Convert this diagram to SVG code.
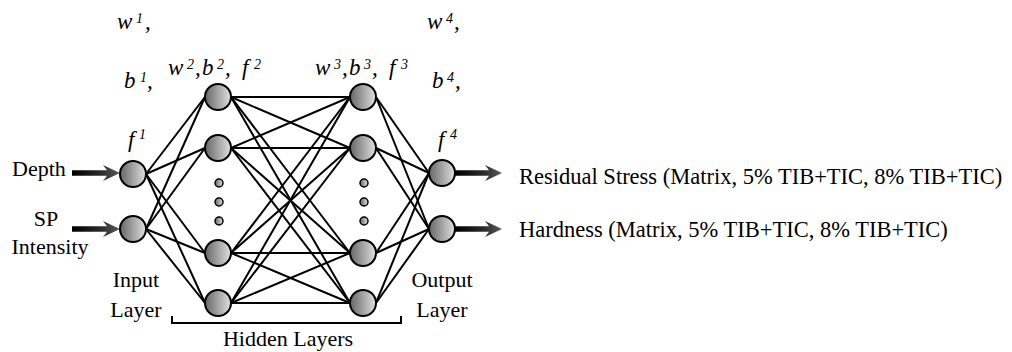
<svg xmlns="http://www.w3.org/2000/svg" width="1012" height="352" viewBox="0 0 1012 352">
<defs>
<linearGradient id="nodeGrad" x1="0" y1="0" x2="1" y2="0">
<stop offset="0" stop-color="#666"/>
<stop offset="1" stop-color="#e0e0e0"/>
</linearGradient>
<linearGradient id="arrowGrad" x1="0" y1="0" x2="1" y2="0">
<stop offset="0" stop-color="#000"/>
<stop offset="0.6" stop-color="#2a2a2a"/>
<stop offset="1" stop-color="#5a5a5a"/>
</linearGradient>
</defs>
<style>
.node{fill:url(#nodeGrad);stroke:#000;stroke-width:2}
.dot{fill:url(#nodeGrad);stroke:#000;stroke-width:1.5}
.conn line{stroke:#000;stroke-width:2}
.arrow{fill:url(#arrowGrad)}
.lbl{font-family:"Liberation Serif",serif;font-size:22px;fill:#000}
.it{font-family:"Liberation Serif",serif;font-size:23px;font-style:italic;fill:#000}
.sup{font-size:14px}
</style>
<rect width="1012" height="352" fill="#fff"/>
<g id="connectors" class="conn">
<line x1="146" y1="174" x2="205" y2="97"/>
<line x1="146" y1="174" x2="205" y2="148"/>
<line x1="146" y1="174" x2="205" y2="253"/>
<line x1="146" y1="174" x2="205" y2="303"/>
<line x1="146" y1="229" x2="205" y2="97"/>
<line x1="146" y1="229" x2="205" y2="148"/>
<line x1="146" y1="229" x2="205" y2="253"/>
<line x1="146" y1="229" x2="205" y2="303"/>
<line x1="231" y1="97" x2="350" y2="97"/>
<line x1="231" y1="97" x2="350" y2="148"/>
<line x1="231" y1="97" x2="350" y2="253"/>
<line x1="231" y1="97" x2="350" y2="303"/>
<line x1="231" y1="148" x2="350" y2="97"/>
<line x1="231" y1="148" x2="350" y2="148"/>
<line x1="231" y1="148" x2="350" y2="253"/>
<line x1="231" y1="148" x2="350" y2="303"/>
<line x1="231" y1="253" x2="350" y2="97"/>
<line x1="231" y1="253" x2="350" y2="148"/>
<line x1="231" y1="253" x2="350" y2="253"/>
<line x1="231" y1="253" x2="350" y2="303"/>
<line x1="231" y1="303" x2="350" y2="97"/>
<line x1="231" y1="303" x2="350" y2="148"/>
<line x1="231" y1="303" x2="350" y2="253"/>
<line x1="231" y1="303" x2="350" y2="303"/>
<line x1="376" y1="97" x2="429" y2="173"/>
<line x1="376" y1="97" x2="429" y2="229"/>
<line x1="376" y1="148" x2="429" y2="173"/>
<line x1="376" y1="148" x2="429" y2="229"/>
<line x1="376" y1="253" x2="429" y2="173"/>
<line x1="376" y1="253" x2="429" y2="229"/>
<line x1="376" y1="303" x2="429" y2="173"/>
<line x1="376" y1="303" x2="429" y2="229"/>
<path class="arrow" d="M72,170.3 H107 L103,165 L120,173 L103,181 L107,175.7 H72 Z"/>
<path class="arrow" d="M72,226.3 H107 L103,221 L120,229 L103,237 L107,231.7 H72 Z"/>
<path class="arrow" d="M455,170.3 H489 L485,165 L502,173 L485,181 L489,175.7 H455 Z"/>
<path class="arrow" d="M455,226.3 H489 L485,221 L502,229 L485,237 L489,231.7 H455 Z"/>
</g>
<g id="input-layer">
<circle class="node" cx="133" cy="174" r="13"/>
<circle class="node" cx="133" cy="229" r="13"/>
<text class="it" x="117" y="29">w<tspan class="sup" x="136" y="23">1</tspan><tspan x="145" y="29">,</tspan></text>
<text class="it" x="124" y="88">b<tspan class="sup" x="140" y="82">1</tspan><tspan x="147" y="88">,</tspan></text>
<text class="it" x="128" y="147">f<tspan class="sup" x="139" y="139">1</tspan></text>
<text class="lbl" x="12" y="176">Depth</text>
<text class="lbl" x="46" y="226" text-anchor="middle">SP</text>
<text class="lbl" x="50" y="254" text-anchor="middle">Intensity</text>
<text class="lbl" x="136" y="287" text-anchor="middle">Input</text>
<text class="lbl" x="136" y="317" text-anchor="middle">Layer</text>
</g>
<g id="hidden-layer-1">
<circle class="node" cx="218" cy="97" r="13"/>
<circle class="node" cx="218" cy="148" r="13"/>
<circle class="node" cx="218" cy="253" r="13"/>
<circle class="node" cx="218" cy="303" r="13"/>
<circle class="dot" cx="219" cy="183" r="4"/>
<circle class="dot" cx="219" cy="202" r="4"/>
<circle class="dot" cx="219" cy="221" r="4"/>
<text class="it" x="168" y="75">w<tspan class="sup" x="187" y="69">2</tspan><tspan x="195" y="75">,</tspan><tspan x="202" y="75">b</tspan><tspan class="sup" x="217" y="69">2</tspan><tspan x="225" y="75">,</tspan><tspan x="242" y="75">f</tspan><tspan class="sup" x="254" y="69">2</tspan></text>
</g>
<g id="hidden-layer-2">
<circle class="node" cx="363" cy="97" r="13"/>
<circle class="node" cx="363" cy="148" r="13"/>
<circle class="node" cx="363" cy="253" r="13"/>
<circle class="node" cx="363" cy="303" r="13"/>
<circle class="dot" cx="364" cy="183" r="4"/>
<circle class="dot" cx="364" cy="202" r="4"/>
<circle class="dot" cx="364" cy="221" r="4"/>
<text class="it" x="315" y="75">w<tspan class="sup" x="334" y="69">3</tspan><tspan x="342" y="75">,</tspan><tspan x="349" y="75">b</tspan><tspan class="sup" x="364" y="69">3</tspan><tspan x="372" y="75">,</tspan><tspan x="389" y="75">f</tspan><tspan class="sup" x="401" y="69">3</tspan></text>
</g>
<g id="output-layer">
<circle class="node" cx="442" cy="173" r="13"/>
<circle class="node" cx="442" cy="229" r="13"/>
<text class="it" x="427" y="29">w<tspan class="sup" x="446" y="23">4</tspan><tspan x="454" y="29">,</tspan></text>
<text class="it" x="432" y="88">b<tspan class="sup" x="447" y="82">4</tspan><tspan x="455" y="88">,</tspan></text>
<text class="it" x="438" y="147">f<tspan class="sup" x="450" y="139">4</tspan></text>
<text class="lbl" x="442" y="287" text-anchor="middle">Output</text>
<text class="lbl" x="442" y="317" text-anchor="middle">Layer</text>
<text class="lbl" x="519" y="184" style="font-size:22.5px">Residual Stress (Matrix, 5% TIB+TIC, 8% TIB+TIC)</text>
<text class="lbl" x="519" y="237" style="font-size:22.5px">Hardness (Matrix, 5% TIB+TIC, 8% TIB+TIC)</text>
</g>
<g id="hidden-bracket">
<path d="M172,316 V323 H401 V316" fill="none" stroke="#000" stroke-width="2"/>
<text class="lbl" x="288" y="346" text-anchor="middle">Hidden Layers</text>
</g>
</svg>
